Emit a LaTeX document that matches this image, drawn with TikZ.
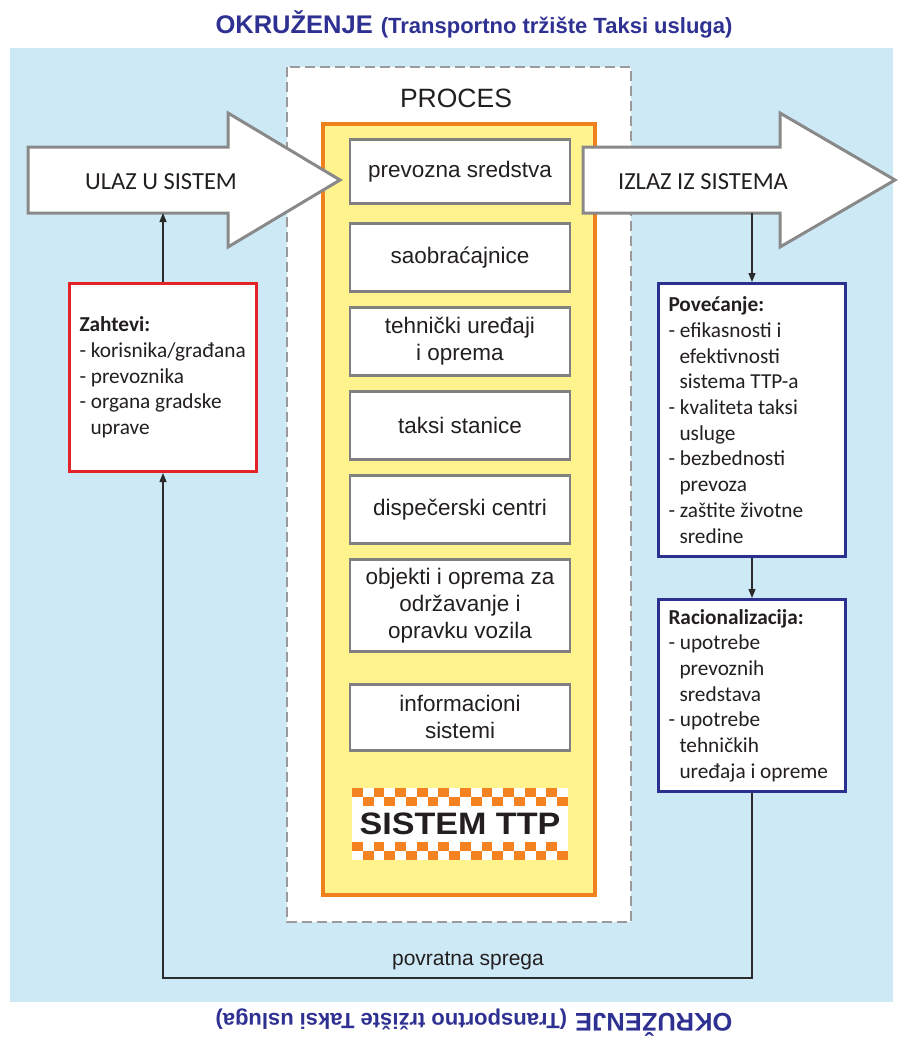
\documentclass[tikz,border=0pt]{standalone}
\usepackage{fontspec}
\setmainfont{Liberation Sans}
\newfontfamily\calibrifont{Carlito}
\usetikzlibrary{arrows.meta}

\definecolor{envblue}{HTML}{CDE9F6}
\definecolor{titleblue}{HTML}{2E3192}
\definecolor{procyellow}{HTML}{FFF38E}
\definecolor{procorange}{HTML}{F0821E}
\definecolor{checkorange}{HTML}{F58220}
\definecolor{reqred}{HTML}{E42329}
\definecolor{outblue}{HTML}{2B2F8E}
\definecolor{arrowgray}{HTML}{898989}
\definecolor{boxgray}{HTML}{808080}
\definecolor{dashgray}{HTML}{9A9A9A}
\definecolor{linkgray}{HTML}{2B2B2B}
\definecolor{inktext}{HTML}{231F20}

\newcommand\listindent{\hspace*{11pt}}
\newcommand\envtitle{{\bfseries\fontsize{25.5}{30}\selectfont OKRUŽENJE}\hspace{8pt}{\bfseries\fontsize{22}{26}\selectfont (Transportno tržište Taksi usluga)}}

\begin{document}
\begin{tikzpicture}[x=1pt,y=-1pt,
  bigarrow/.style={draw=arrowgray, line width=3pt, fill=white, line join=miter},
  arrowtext/.style={font=\calibrifont\fontsize{24.5}{28}\selectfont, text=inktext},
  element/.style={draw=boxgray, line width=2.5pt, fill=white, minimum width=220pt,
    anchor=north, align=flush center, inner sep=2pt, text=inktext,
    font=\fontsize{22.5}{27}\selectfont},
  listbox/.style={line width=3pt, fill=white, minimum width=187pt, text width=167pt,
    inner xsep=10pt, anchor=north west, align=flush left, text=inktext,
    font=\calibrifont\fontsize{21.3}{25.7}\selectfont},
  link/.style={draw=linkgray, line width=1.3pt, -{Triangle[length=9pt,width=7pt]}},
  titletext/.style={text=titleblue, inner sep=0pt, anchor=base}
]
\useasboundingbox (0,0) rectangle (901,1039);

% environment
\fill[envblue] (10,48) rectangle (893,1002);
\node[titletext] (envtop) at (474,33) {\envtitle};
\node[titletext, rotate=180] (envbottom) at (474,1013) {\envtitle};

% process frame
\draw[dashgray, line width=2pt, dash pattern=on 10pt off 5pt, fill=white] (287,67) rectangle (631,922);
\node[anchor=base, text=inktext, font=\fontsize{26.5}{30}\selectfont] (proces) at (456,107) {PROCES};
\draw[procorange, line width=3.5pt, fill=procyellow] (323,124) rectangle (595,895);

% elements of the system
\node[element, minimum height=64pt] (e1) at (460,138) {prevozna sredstva};
\node[element, minimum height=68pt] (e2) at (460,222) {saobraćajnice};
\node[element, minimum height=68pt] (e3) at (460,306) {tehnički uređaji\\i oprema};
\node[element, minimum height=68pt] (e4) at (460,390) {taksi stanice};
\node[element, minimum height=68pt] (e5) at (460,474) {dispečerski centri};
\node[element, minimum height=92pt] (e6) at (460,558) {objekti i oprema za\\održavanje i\\opravku vozila};
\node[element, minimum height=66pt] (e7) at (460,683) {informacioni\\sistemi};

% taxi checker band
\fill[white] (352,788) rectangle (568,860);
\foreach \c in {0,2,...,18}{
  \fill[checkorange] ({352+\c*10.8},788) rectangle ++(10.8,9);
  \fill[checkorange] ({352+(\c+1)*10.8},797) rectangle ++(10.8,9);
  \fill[checkorange] ({352+\c*10.8},842) rectangle ++(10.8,9);
  \fill[checkorange] ({352+(\c+1)*10.8},851) rectangle ++(10.8,9);
}
\node[xscale=1.1, text=inktext, font=\bfseries\fontsize{31}{31}\selectfont] (ttp) at (460,824) {SISTEM TTP};

% input and output arrows
\draw[bigarrow] (28,147) -- (228,147) -- (228,113) -- (340,180) -- (228,247) -- (228,213) -- (28,213) -- cycle;
\node[arrowtext] (ulaz) at (161,182) {ULAZ U SISTEM};
\draw[bigarrow] (583,147) -- (780,147) -- (780,113) -- (895,180) -- (780,247) -- (780,213) -- (583,213) -- cycle;
\node[arrowtext] (izlaz) at (703,182) {IZLAZ IZ SISTEMA};
\coordinate (ulazbase) at (160,213);
\coordinate (izlazbase) at (752,213);

% requirements and results
\node[listbox, draw=reqred, minimum height=188pt] (req) at (68,282)
  {\textbf{Zahtevi:}\\
   -~korisnika/građana\\
   -~prevoznika\\
   -~organa gradske\\
   \listindent uprave};
\node[listbox, draw=outblue, minimum height=273pt] (inc) at (657,282)
  {\textbf{Povećanje:}\\
   -~efikasnosti i\\
   \listindent efektivnosti\\
   \listindent sistema TTP-a\\
   -~kvaliteta taksi\\
   \listindent usluge\\
   -~bezbednosti\\
   \listindent prevoza\\
   -~zaštite životne\\
   \listindent sredine};
\node[listbox, draw=outblue, minimum height=192pt] (rat) at (657,598)
  {\textbf{Racionalizacija:}\\
   -~upotrebe\\
   \listindent prevoznih\\
   \listindent sredstava\\
   -~upotrebe\\
   \listindent tehničkih\\
   \listindent uređaja i opreme};

% connectors
\coordinate (fb) at (0,978);
\draw[link] (req.north) -- (req.north |- ulazbase);
\draw[link] (inc.north |- izlazbase) -- (inc.north);
\draw[link] (inc.south) -- (rat.north);
\draw[link] (rat.south) -- (rat.south |- fb) -| (req.south);
\node[text=inktext, font=\fontsize{21}{24}\selectfont] (fblabel) at (468,961) {povratna sprega};
\end{tikzpicture}
\end{document}
